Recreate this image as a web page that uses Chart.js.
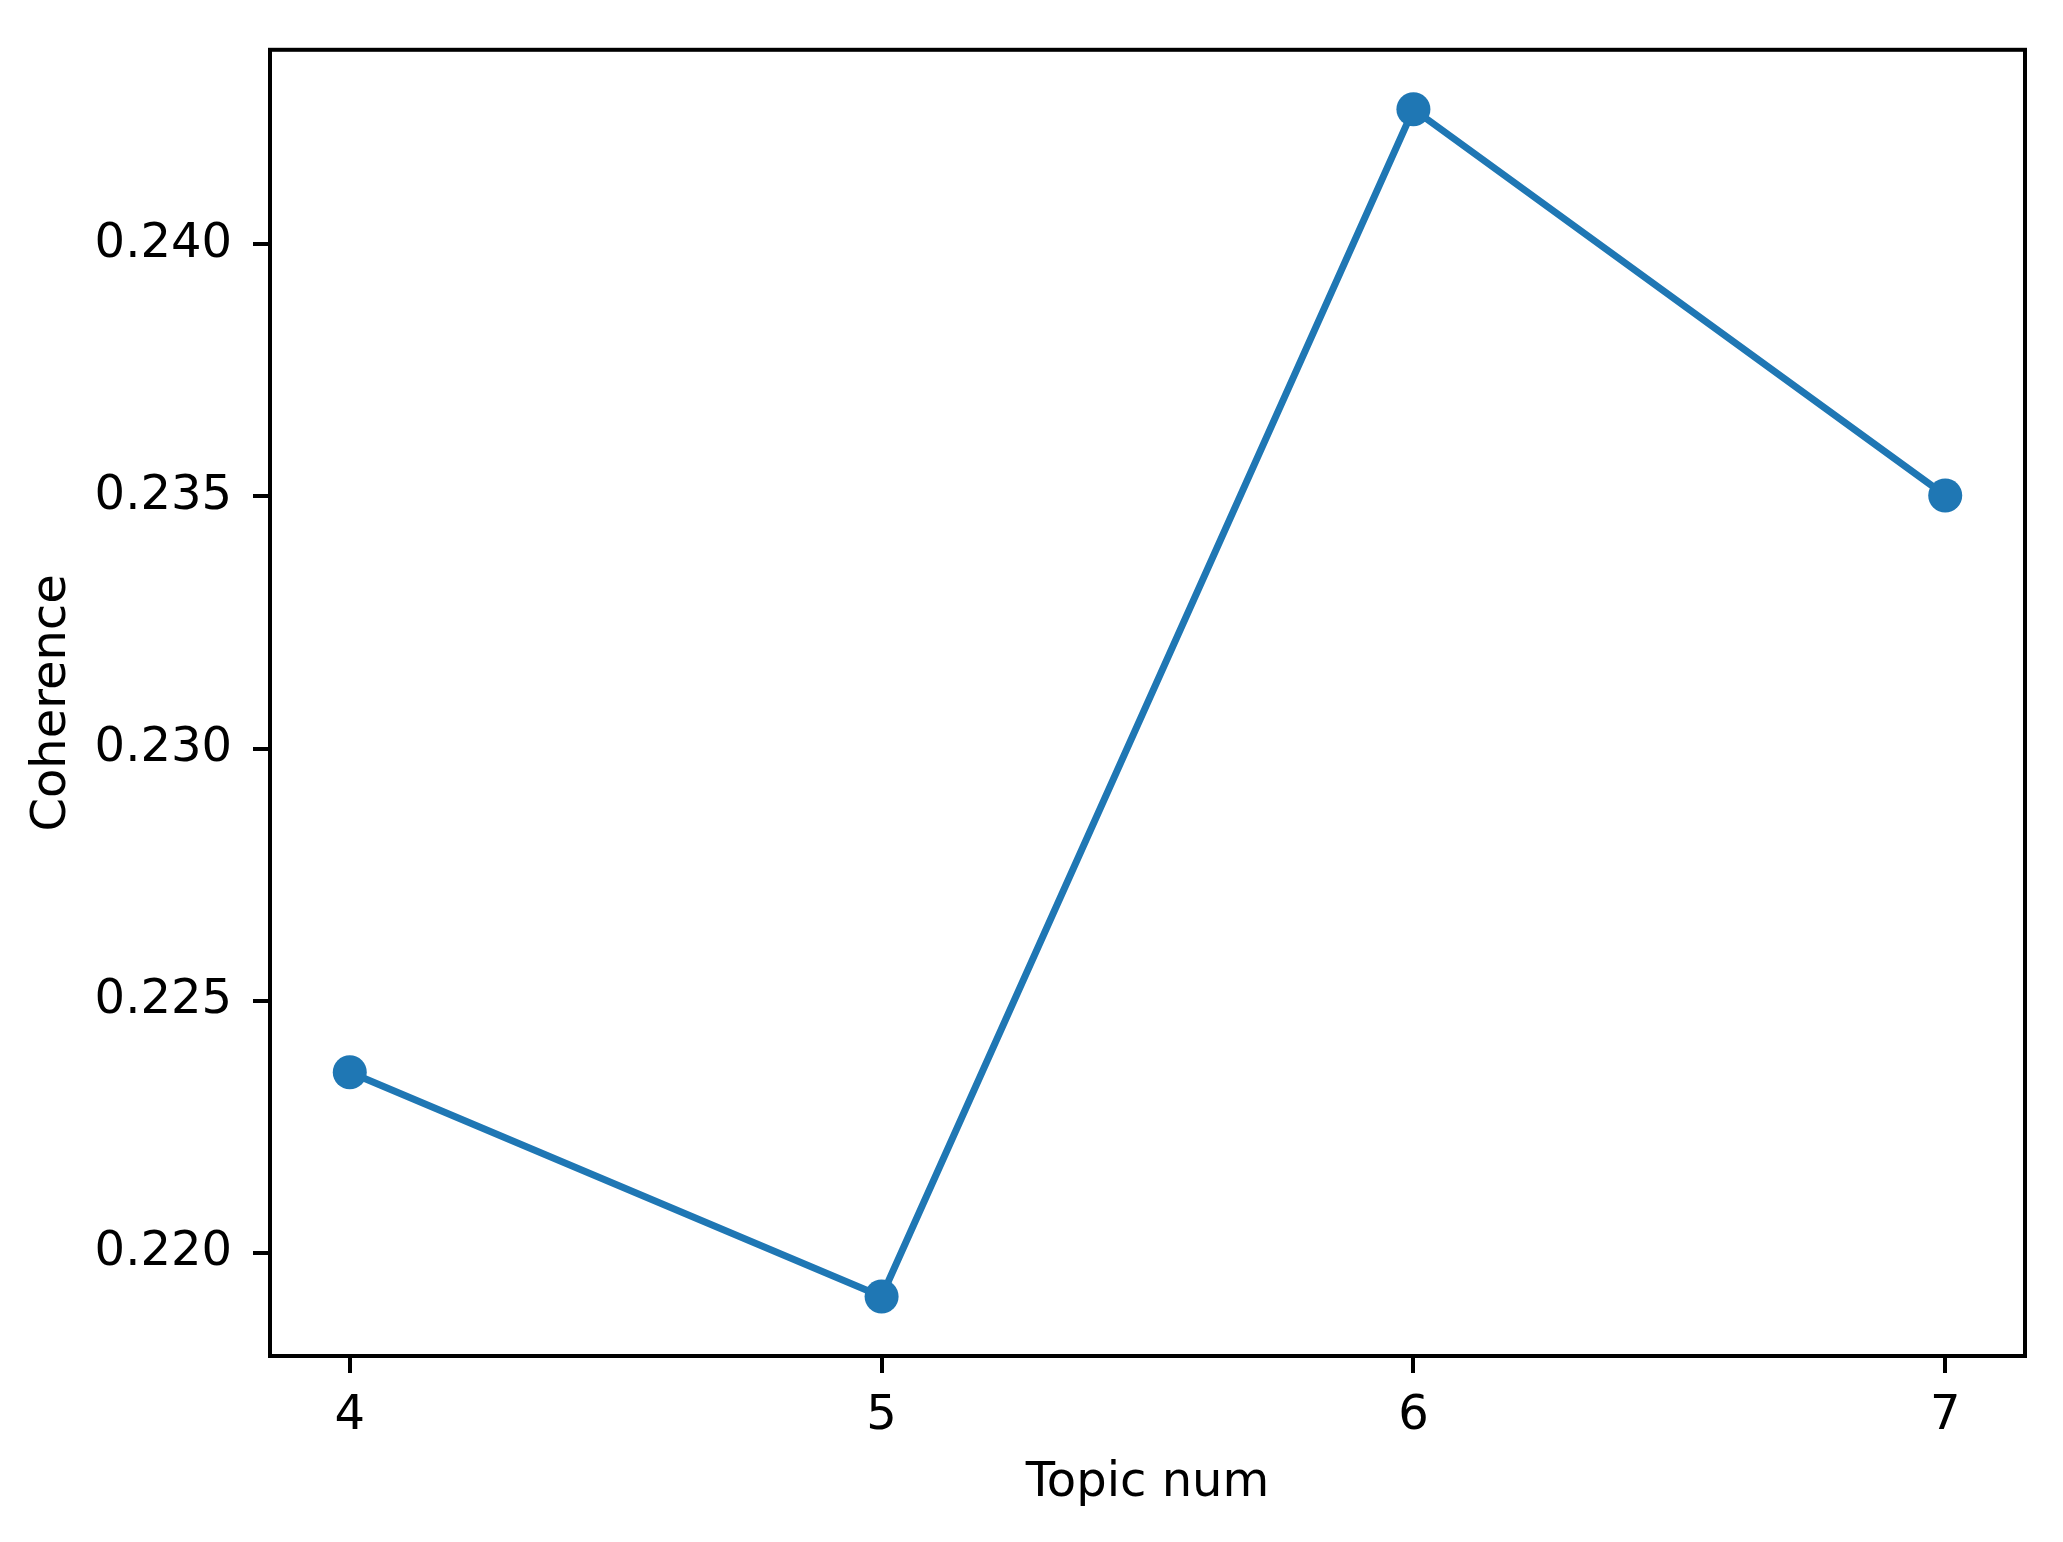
<!DOCTYPE html>
<html>
<head>
<meta charset="utf-8">
<script src="https://cdn.jsdelivr.net/npm/chart.js@4/dist/chart.umd.min.js"></script>
<style>
  html, body { margin: 0; padding: 0; background: #fff; }
  canvas { display: block; }
</style>
</head>
<body>
<canvas id="coherenceChart" width="2063" height="1542"></canvas>
<script>
// data
const topicNums = [4, 5, 6, 7];
const coherence = [0.22358, 0.21913, 0.24268, 0.23502];
const xTicks = [4, 5, 6, 7];
const yTicks = [0.220, 0.225, 0.230, 0.235, 0.240];

const blue = '#1f77b4';
const font = { family: 'DejaVu Sans', size: 48 };

// box round the plot (top and right spines)
const frame = {
    id: 'frame',
    afterDatasetsDraw(chart) {
        const { ctx, chartArea: a } = chart;
        ctx.save();
        ctx.strokeStyle = '#000';
        ctx.lineWidth = 4;
        ctx.strokeRect(a.left, a.top, a.right - a.left, a.bottom - a.top);
        ctx.restore();
    }
};

const ctx = document.getElementById('coherenceChart').getContext('2d');
new Chart(ctx, {
    type: 'line',
    data: {
        datasets: [{
            data: topicNums.map((x, i) => ({ x: x, y: coherence[i] })),
            borderColor: blue,
            backgroundColor: blue,
            borderWidth: 7,
            pointRadius: 17,
            pointHoverRadius: 17,
            pointBorderWidth: 0,
            tension: 0,
            fill: false
        }]
    },
    options: {
        responsive: false,
        animation: false,
        clip: false,
        layout: { padding: { left: 0, right: 38, top: 49, bottom: 0 } },
        plugins: {
            legend: { display: false },
            tooltip: { enabled: false }
        },
        scales: {
            x: {
                type: 'linear',
                min: 3.85,
                max: 7.15,
                afterBuildTicks: s => { s.ticks = xTicks.map(v => ({ value: v })); },
                afterFit: s => { s.height = 186; },
                grid: { drawOnChartArea: false, drawTicks: true, tickLength: 17, color: '#000', lineWidth: 4 },
                border: { display: true, color: '#000', width: 4 },
                ticks: { color: '#000', font: font, padding: 15, maxRotation: 0, callback: v => String(v) },
                title: { display: true, text: 'Topic num', color: '#000', font: font, padding: { top: 0, bottom: 30 } }
            },
            y: {
                type: 'linear',
                min: 0.21795,
                max: 0.24386,
                afterBuildTicks: s => { s.ticks = yTicks.map(v => ({ value: v })); },
                afterFit: s => { s.width = 270; },
                grid: { drawOnChartArea: false, drawTicks: true, tickLength: 17, color: '#000', lineWidth: 4 },
                border: { display: true, color: '#000', width: 4 },
                ticks: { color: '#000', font: font, padding: 21, callback: v => v.toFixed(3) },
                title: { display: true, text: 'Coherence', color: '#000', font: font, padding: { top: 24, bottom: 0 } }
            }
        }
    },
    plugins: [frame]
});
</script>
</body>
</html>
